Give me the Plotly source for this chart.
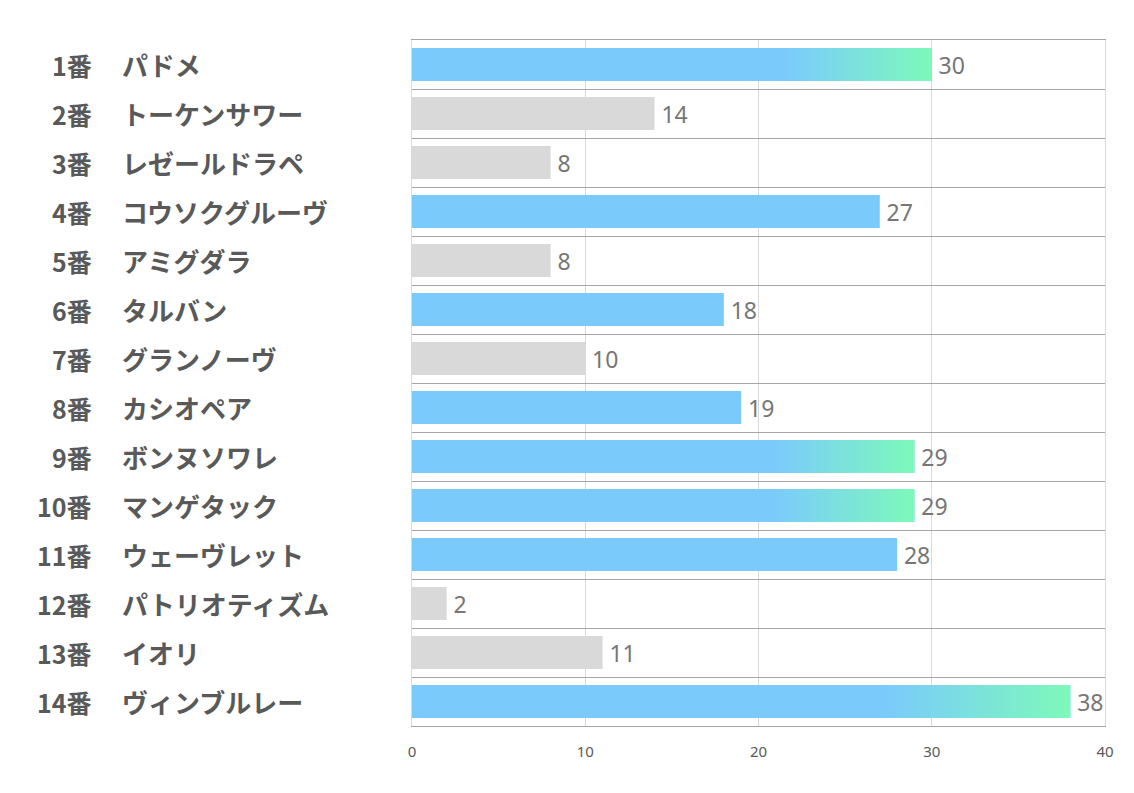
import plotly.graph_objects as go

numbers = ["1番", "2番", "3番", "4番", "5番", "6番", "7番", "8番", "9番", "10番", "11番", "12番", "13番", "14番"]
names = ["パドメ", "トーケンサワー", "レゼールドラペ", "コウソクグルーヴ", "アミグダラ", "タルバン", "グランノーヴ",
         "カシオペア", "ボンヌソワレ", "マンゲタック", "ウェーヴレット", "パトリオティズム", "イオリ", "ヴィンブルレー"]
values = [30, 14, 8, 27, 8, 18, 10, 19, 29, 29, 28, 2, 11, 38]
x_ticks = [0, 10, 20, 30, 40]

BLUE = "#7ACBFC"
GREEN = "#7DF9BA"
GRAY = "#D9D9D9"
LABEL_COLOR = "#595959"
VALUE_COLOR = "#767676"
BAR_W = 0.67
N_GRAD = 4
N_BLUE = 8

idx = list(range(len(values)))
order = sorted(idx, key=lambda i: -values[i])
rank = {i: r for r, i in enumerate(order)}
colors = [BLUE if rank[i] < N_BLUE else GRAY for i in idx]

fig = go.Figure()
fig.add_trace(go.Bar(
    orientation="h", y=idx, x=values, width=BAR_W,
    marker=dict(color=colors, line=dict(width=0)),
    text=["\u2009" + str(v) for v in values], textposition="outside",
    textfont=dict(size=23, color=VALUE_COLOR, family="Liberation Sans Narrow, Noto Sans, sans-serif"),
    cliponaxis=False, hoverinfo="skip",
))

for i in idx:
    if rank[i] < N_GRAD:
        v = values[i]
        g0 = v * 0.72
        fig.add_trace(go.Scatter(
            x=[g0, v, v, g0, g0],
            y=[i - BAR_W / 2, i - BAR_W / 2, i + BAR_W / 2, i + BAR_W / 2, i - BAR_W / 2],
            mode="lines", line=dict(width=0), fill="toself",
            fillgradient=dict(type="horizontal", colorscale=[[0, BLUE], [1, GREEN]], start=g0, stop=v),
            hoverinfo="skip", showlegend=False,
        ))

L, R, T, B = 412, 29, 40, 67
W, H = 1134, 793
pw = W - L - R
annotations = []
for i in idx:
    annotations.append(dict(
        x=(94 - L) / pw, xref="paper", y=i, yref="y", xanchor="right", yanchor="middle",
        text="<b>" + numbers[i] + "</b>", showarrow=False,
        font=dict(size=25, color=LABEL_COLOR, family="Noto Sans CJK JP"),
    ))
    annotations.append(dict(
        x=(120 - L) / pw, xref="paper", y=i, yref="y", xanchor="left", yanchor="middle",
        text="<b>" + names[i] + "</b>", showarrow=False,
        font=dict(size=26, color=LABEL_COLOR, family="Noto Sans CJK JP"),
    ))

fig.update_layout(
    width=W, height=H, margin=dict(l=L, r=R, t=T, b=B),
    paper_bgcolor="white", plot_bgcolor="white", showlegend=False,
    annotations=annotations,
    xaxis=dict(range=[0, 40], tickvals=x_ticks, showgrid=True, gridcolor="#D9D9D9", gridwidth=1,
               zeroline=False, showline=True, mirror=True, linecolor="#A6A6A6", linewidth=1,
               ticks="outside", ticklen=12, tickcolor="rgba(0,0,0,0)",
               tickfont=dict(size=15, color=LABEL_COLOR, family="Liberation Sans Narrow, Noto Sans, sans-serif"),
               fixedrange=True),
    yaxis=dict(range=[len(values) - 0.5, -0.5], tick0=0.5, dtick=1, tickmode="linear",
               showticklabels=False, showgrid=True, gridcolor="#A6A6A6", gridwidth=1,
               zeroline=False, showline=True, mirror=True, linecolor="#D9D9D9", linewidth=1,
               ticks="", fixedrange=True),
)

fig.write_html("out.html")
